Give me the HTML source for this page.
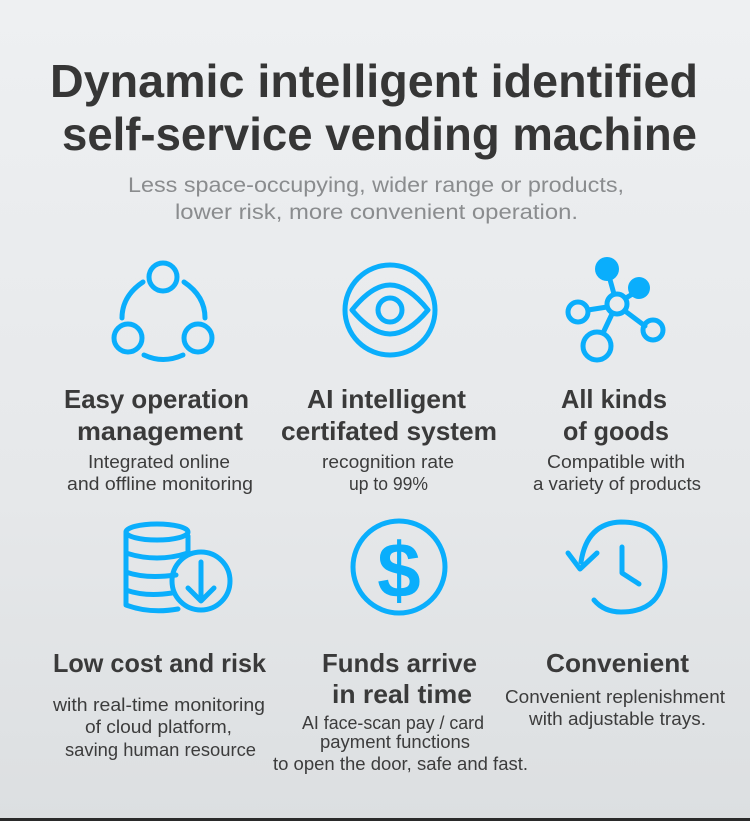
<!DOCTYPE html>
<html><head><meta charset="utf-8"><style>
html,body{margin:0;padding:0;}
body{width:750px;height:821px;overflow:hidden;background:linear-gradient(180deg,#eef0f2 0%,#e6e8ea 60%,#dcdfe1 100%);}
svg{display:block}
text{font-family:"Liberation Sans",sans-serif;}
</style></head><body>
<svg width="750" height="821" viewBox="0 0 750 821">
<g fill="#363636" font-weight="bold" font-size="46">
<text x="50" y="97" textLength="648" lengthAdjust="spacingAndGlyphs">Dynamic intelligent identified</text>
<text x="62" y="150" textLength="635" lengthAdjust="spacingAndGlyphs">self-service vending machine</text>
</g>
<g fill="#8a8c8e" font-size="21">
<text x="128" y="192" textLength="496" lengthAdjust="spacingAndGlyphs">Less space-occupying, wider range or products,</text>
<text x="175" y="219" textLength="403" lengthAdjust="spacingAndGlyphs">lower risk, more convenient operation.</text>
</g>
<g fill="#3a3a3a" font-weight="bold" font-size="26">
<text x="64" y="408" textLength="185" lengthAdjust="spacingAndGlyphs">Easy operation</text>
<text x="77" y="440" textLength="166" lengthAdjust="spacingAndGlyphs">management</text>
<text x="307" y="408" textLength="159" lengthAdjust="spacingAndGlyphs">AI intelligent</text>
<text x="281" y="440" textLength="216" lengthAdjust="spacingAndGlyphs">certifated system</text>
<text x="561" y="408" textLength="106" lengthAdjust="spacingAndGlyphs">All kinds</text>
<text x="563" y="440" textLength="106" lengthAdjust="spacingAndGlyphs">of goods</text>
<text x="53" y="672" textLength="213" lengthAdjust="spacingAndGlyphs">Low cost and risk</text>
<text x="322" y="672" textLength="155" lengthAdjust="spacingAndGlyphs">Funds arrive</text>
<text x="332" y="703" textLength="140" lengthAdjust="spacingAndGlyphs">in real time</text>
<text x="546" y="672" textLength="143" lengthAdjust="spacingAndGlyphs">Convenient</text>
</g>
<g fill="#3c3c3c" font-size="18">
<text x="88" y="468" textLength="142" lengthAdjust="spacingAndGlyphs">Integrated online</text>
<text x="67" y="490" textLength="186" lengthAdjust="spacingAndGlyphs">and offline monitoring</text>
<text x="322" y="468" textLength="132" lengthAdjust="spacingAndGlyphs">recognition rate</text>
<text x="349" y="490" textLength="79" lengthAdjust="spacingAndGlyphs">up to 99%</text>
<text x="547" y="468" textLength="138" lengthAdjust="spacingAndGlyphs">Compatible with</text>
<text x="533" y="490" textLength="168" lengthAdjust="spacingAndGlyphs">a variety of products</text>
<text x="53" y="711" textLength="212" lengthAdjust="spacingAndGlyphs">with real-time monitoring</text>
<text x="85" y="733" textLength="147" lengthAdjust="spacingAndGlyphs">of cloud platform,</text>
<text x="65" y="756" textLength="191" lengthAdjust="spacingAndGlyphs">saving human resource</text>
<text x="302" y="729" textLength="182" lengthAdjust="spacingAndGlyphs">AI face-scan pay / card</text>
<text x="320" y="748" textLength="150" lengthAdjust="spacingAndGlyphs">payment functions</text>
<text x="273" y="770" textLength="255" lengthAdjust="spacingAndGlyphs">to open the door, safe and fast.</text>
<text x="505" y="703" textLength="220" lengthAdjust="spacingAndGlyphs">Convenient replenishment</text>
<text x="529" y="725" textLength="177" lengthAdjust="spacingAndGlyphs">with adjustable trays.</text>
</g>
<g fill="none" stroke="#0aaefc" stroke-width="5" stroke-linecap="round" stroke-linejoin="round">
<!-- icon1 -->
<circle cx="163" cy="277" r="14"/>
<circle cx="128" cy="338" r="14"/>
<circle cx="198" cy="338" r="14"/>
<path d="M143 282 Q122 296 122 318"/>
<path d="M184 282 Q205 296 205 318"/>
<path d="M144 355 Q163 364 183 355"/>
<!-- icon2 eye -->
<circle cx="390" cy="310" r="45"/>
<path d="M352 310 Q372 285 390 285 Q408 285 428 310 Q408 334 390 334 Q372 334 352 310Z"/>
<circle cx="390" cy="310" r="12"/>
<!-- icon3 network -->
<circle cx="617" cy="304" r="10"/>
<circle cx="578" cy="312" r="10"/>
<circle cx="653" cy="330" r="10"/>
<circle cx="597" cy="346" r="14"/>
<path d="M588 310 L607 307 M614 294 L609 276 M626 298 L634 293 M625 311 L645 326 M612 314 L603 333"/>
<!-- coins -->
<ellipse cx="157" cy="532" rx="31" ry="8"/>
<path d="M126 532 V553 Q157 563 188 553 V536"/>
<path d="M126 553 V572 Q145 579 176 575"/>
<path d="M126 572 V590 Q145 597 172 593"/>
<path d="M126 590 V605 Q150 614 178 609"/>
<circle cx="201" cy="581" r="29"/>
<path d="M201 562 V601 M188 588 L201 601 L214 588"/>
<!-- dollar -->
<circle cx="399" cy="567" r="46"/>
<!-- clock -->
<path d="M581 562 Q587 523 621 522 Q665 522 665 567 Q664 612 621 612 Q604 612 594 600"/>
<path d="M568 553 L580 569 L597 553"/>
<path d="M622 547 V573 L639 584"/>
</g>
<g fill="#0aaefc">
<circle cx="607" cy="269" r="12"/>
<circle cx="639" cy="288" r="11"/>
</g>
<text x="399" y="597" text-anchor="middle" font-weight="bold" font-size="78" fill="#0aaefc" font-family="Liberation Sans">$</text>
<rect x="0" y="818" width="750" height="3" fill="#2a2a2a"/>
</svg>
</body></html>
